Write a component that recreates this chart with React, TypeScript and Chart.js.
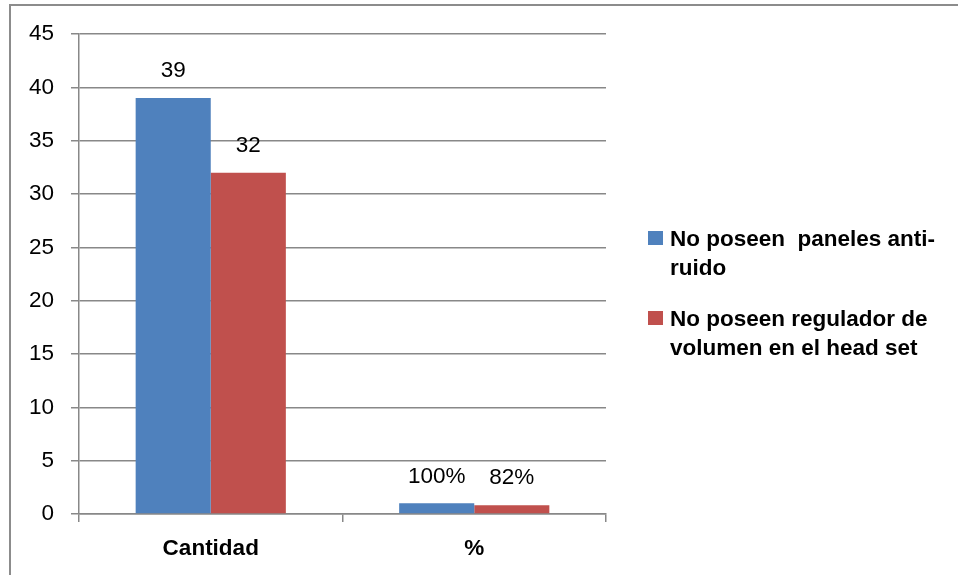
import React, { useEffect, useRef } from "react";
import { Chart, registerables } from "chart.js";

Chart.register(...registerables);

const categories = ["Cantidad", "%"];
const seriesNames = ["No poseen  paneles anti-\nruido", "No poseen regulador de\nvolumen en el head set"];
const seriesA = [39, 1];
const seriesB = [32, 0.82];
const labelsA = ["39", "100%"];
const labelsB = ["32", "82%"];
const colors = ["#4F81BD", "#C0504D"];
const yMin = 0;
const yMax = 45;
const yStep = 5;

const FONT = "'Liberation Sans', Arial, sans-serif";
const FS = 22.5;

const valueLabelPlugin = {
  id: "valueLabels",
  afterDatasetsDraw(chart: any) {
    const ctx = chart.ctx;
    const lbls = [labelsA, labelsB];
    ctx.save();
    ctx.font = `${FS}px ${FONT}`;
    ctx.fillStyle = "#000";
    ctx.textAlign = "center";
    ctx.textBaseline = "middle";
    chart.data.datasets.forEach((ds: any, di: number) => {
      const meta = chart.getDatasetMeta(di);
      meta.data.forEach((bar: any, i: number) => {
        ctx.fillText(lbls[di][i], bar.x, bar.y - 27);
      });
    });
    ctx.restore();
  },
};

export default function App() {
  const ref = useRef<HTMLCanvasElement | null>(null);
  useEffect(() => {
    if (!ref.current) return;
    const chart = new Chart(ref.current, {
      type: "bar",
      data: {
        labels: categories,
        datasets: [
          { label: seriesNames[0], data: seriesA, backgroundColor: colors[0], categoryPercentage: 0.57, barPercentage: 1 },
          { label: seriesNames[1], data: seriesB, backgroundColor: colors[1], categoryPercentage: 0.57, barPercentage: 1 },
        ],
      },
      options: {
        animation: false,
        responsive: false,
        layout: { padding: { left: 0, top: 34, right: 352, bottom: 0 } },
        plugins: { legend: { display: false }, tooltip: { enabled: false } },
        scales: {
          x: {
            offset: true,
            grid: { drawOnChartArea: false, drawTicks: true, tickLength: 8, color: "#888", lineWidth: 1.5, offset: true },
            border: { color: "#888", width: 1.5 },
            ticks: { color: "#000", font: { family: FONT, size: FS, weight: "bold" }, padding: 13 },
            afterFit: (s: any) => { s.height = 61; },
          },
          y: {
            min: yMin,
            max: yMax,
            ticks: { stepSize: yStep, color: "#000", font: { family: FONT, size: FS }, padding: 17 },
            grid: { color: "#888", lineWidth: 1.5, tickLength: 8 },
            border: { color: "#888", width: 1.5 },
            afterFit: (s: any) => { s.width = 79; },
          },
        },
      },
      plugins: [valueLabelPlugin],
    });
    return () => chart.destroy();
  }, []);

  const legendText: React.CSSProperties = {
    position: "absolute",
    left: 670,
    fontFamily: FONT,
    fontWeight: "bold",
    fontSize: FS,
    lineHeight: "29px",
    whiteSpace: "pre",
    color: "#000",
  };
  const sq = (top: number, c: string): React.CSSProperties => ({
    position: "absolute", left: 648, top, width: 15, height: 14, background: c,
  });

  return (
    <div style={{ position: "fixed", left: 0, top: 0, width: 958, height: 575, background: "#fff", overflow: "hidden" }}>
      <canvas ref={ref} width={958} height={575} style={{ position: "absolute", left: 0, top: 0 }} />
      <div style={{ position: "absolute", left: 9, top: 4, width: 1000, height: 700, borderTop: "2px solid #8c8c8c", borderLeft: "2px solid #8c8c8c" }} />
      <div style={sq(231, colors[0])} />
      <div style={{ ...legendText, top: 224 }}>{seriesNames[0]}</div>
      <div style={sq(311, colors[1])} />
      <div style={{ ...legendText, top: 304 }}>{seriesNames[1]}</div>
    </div>
  );
}
